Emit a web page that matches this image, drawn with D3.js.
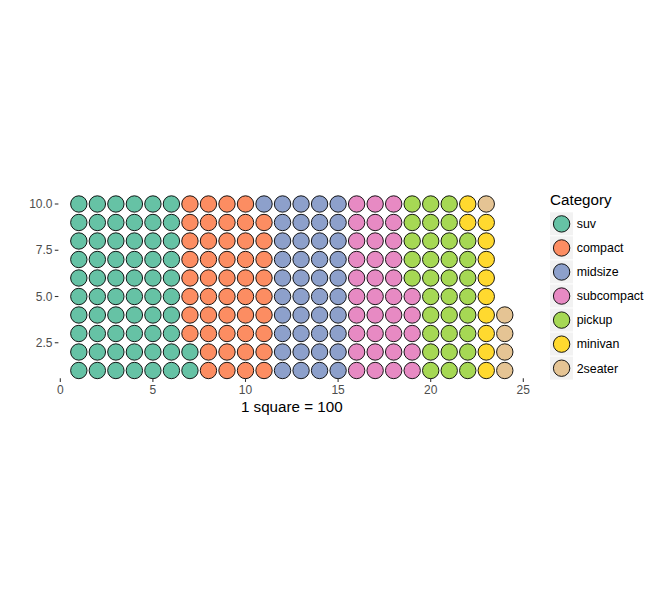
<!DOCTYPE html>
<html><head>
<meta charset="utf-8">
<script src="https://d3js.org/d3.v7.min.js"></script>
<style>
  body { margin: 0; background: #ffffff; }
  text { font-family: "Liberation Sans", Arial, sans-serif; }
  .tick-label { font-size: 12px; fill: #4D4D4D; }
  .axis-title { font-size: 15.2px; fill: #000000; }
  .legend-title { font-size: 15.2px; fill: #000000; }
  .legend-label { font-size: 12.4px; fill: #000000; }
</style>
</head>
<body>
<svg id="chart" width="663" height="612"></svg>
<script>

// mpg class counts, one circle per car
const categories = ["suv", "compact", "midsize", "subcompact", "pickup", "minivan", "2seater"];
const counts = [62, 47, 41, 35, 33, 11, 5];
const colors = ["#66C2A5", "#FC8D62", "#8DA0CB", "#E78AC3", "#A6D854", "#FFD92F", "#E5C494"];
const nRows = 10;
const xTicks = [0, 5, 10, 15, 20, 25];
const yTicks = [2.5, 5.0, 7.5, 10.0];

const svg = d3.select("#chart");

// panel
const x = d3.scaleLinear().domain([0, 25]).range([60.3, 523.3]);
const y = d3.scaleLinear().domain([1, 10]).range([370.5, 204]);
const panelBottom = 378.3;
const panelLeft = 59;

const color = d3.scaleOrdinal().domain(categories).range(colors);

// waffle cells: fill columns bottom to top
let cells = [];
let idx = 0;
categories.forEach((c, i) => {
  for (let k = 0; k < counts[i]; k++) {
    cells.push({cat: c, col: Math.floor(idx / nRows) + 1, row: idx % nRows + 1});
    idx++;
  }
});

svg.append("g").selectAll("circle").data(cells)
  .join("circle")
  .attr("cx", d => x(d.col))
  .attr("cy", d => y(d.row))
  .attr("r", 8.2)
  .attr("fill", d => color(d.cat))
  .attr("stroke", "#000")
  .attr("stroke-width", 0.9);

// x axis
const xAxis = svg.append("g");
xAxis.selectAll("line").data(xTicks).join("line")
  .attr("x1", d => x(d)).attr("x2", d => x(d))
  .attr("y1", panelBottom).attr("y2", panelBottom + 3.6)
  .attr("stroke", "#333333").attr("stroke-width", 1.07);
xAxis.selectAll("text").data(xTicks).join("text")
  .attr("class", "tick-label")
  .attr("x", d => x(d))
  .attr("y", panelBottom + 15.2)
  .attr("text-anchor", "middle")
  .text(d => d);

// y axis
const yAxis = svg.append("g");
yAxis.selectAll("line").data(yTicks).join("line")
  .attr("x1", panelLeft - 4.2).attr("x2", panelLeft - 0.6)
  .attr("y1", d => y(d)).attr("y2", d => y(d))
  .attr("stroke", "#333333").attr("stroke-width", 1.07);
yAxis.selectAll("text").data(yTicks).join("text")
  .attr("class", "tick-label")
  .attr("x", panelLeft - 6.5)
  .attr("y", d => y(d))
  .attr("dy", "0.35em")
  .attr("text-anchor", "end")
  .text(d => d3.format(".1f")(d));

svg.append("text")
  .attr("class", "axis-title")
  .attr("x", (x(0) + x(25)) / 2)
  .attr("y", 412.3)
  .attr("text-anchor", "middle")
  .text("1 square = 100");

// legend
const legend = svg.append("g").attr("transform", "translate(550,0)");
legend.append("text")
  .attr("class", "legend-title")
  .attr("x", 0)
  .attr("y", 205)
  .text("Category");

const keys = legend.selectAll("g.key").data(categories)
  .join("g")
  .attr("class", "key")
  .attr("transform", (d, i) => `translate(0,${212.3 + i * 24.05})`);
keys.append("rect")
  .attr("width", 23).attr("height", 23)
  .attr("fill", "#F2F2F2");
keys.append("circle")
  .attr("cx", 11.6).attr("cy", 11.6)
  .attr("r", 8.2)
  .attr("fill", d => color(d))
  .attr("stroke", "#000")
  .attr("stroke-width", 0.9);
keys.append("text")
  .attr("class", "legend-label")
  .attr("x", 26.7)
  .attr("y", 11.6)
  .attr("dy", "0.35em")
  .text(d => d);

</script>
</body>
</html>
